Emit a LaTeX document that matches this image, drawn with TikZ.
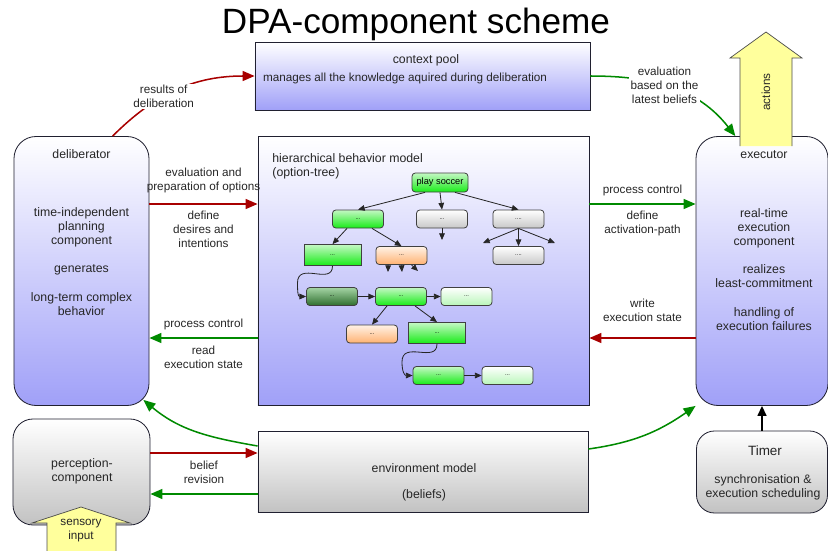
\documentclass[tikz,border=0pt]{standalone}
\usepackage{fontspec}
\setmainfont{Liberation Sans}
\usepackage{xcolor}
\definecolor{dpa-blue}{HTML}{A0A0F8}
\definecolor{dpa-grey}{HTML}{C2C2C2}
\definecolor{dpa-red}{HTML}{A80000}
\definecolor{dpa-green}{HTML}{008A00}
\definecolor{dpa-yellow}{HTML}{FFFF9C}
\definecolor{dpa-line}{HTML}{202030}
\definecolor{opt-green}{HTML}{18EC18}
\definecolor{opt-greentop}{HTML}{C4F8C4}
\definecolor{opt-dark}{HTML}{2E6E2E}
\definecolor{opt-darktop}{HTML}{A4D4A4}
\definecolor{opt-light}{HTML}{B8F6B8}
\definecolor{opt-orange}{HTML}{FFB272}
\definecolor{opt-orangetop}{HTML}{FFF2E6}
\definecolor{opt-grey}{HTML}{C8C8C8}
\usepackage{tikz}
\usetikzlibrary{arrows.meta}

\tikzset{
  bluebox/.style={draw=dpa-line, line width=0.7pt, top color=white, bottom color=dpa-blue, inner sep=0pt},
  greybox/.style={draw=dpa-line, line width=0.7pt, top color=white, bottom color=dpa-grey, inner sep=0pt},
  boxtext/.style={font=\fontsize{10.5}{12}\selectfont, text=black!85, align=center, inner sep=1pt},
  lbl/.style={font=\fontsize{10}{12}\selectfont, text=black!85, align=center, inner sep=1pt},
  redarrow/.style={draw=dpa-red, line width=1.3pt, -{Triangle[length=0.36cm, width=0.3cm]}},
  greenarrow/.style={draw=dpa-green, line width=1.3pt, -{Triangle[length=0.36cm, width=0.3cm]}},
  opt/.style={draw=black!75, line width=0.7pt, rounded corners=0.1cm, minimum width=1.53cm, minimum height=0.54cm, inner sep=0pt, font=\fontsize{5}{6}\selectfont},
  optrect/.style={sharp corners, minimum width=1.71cm, minimum height=0.63cm},
  optgreen/.style={opt, top color=opt-greentop, bottom color=opt-green},
  optdark/.style={opt, top color=opt-darktop, bottom color=opt-dark},
  optlight/.style={opt, top color=white, bottom color=opt-light},
  optorange/.style={opt, top color=opt-orangetop, bottom color=opt-orange},
  optgrey/.style={opt, top color=white, bottom color=opt-grey},
  optarrow/.style={draw=black!85, line width=0.7pt, -{Triangle[length=0.2cm, width=0.17cm]}}
}

\begin{document}
\begin{tikzpicture}[x=0.03cm, y=-0.03cm]

    \useasboundingbox (0,0) rectangle (828,550);

    % Title
    \node[anchor=base, font=\fontsize{30}{36}\selectfont] (title) at (416,33) {DPA-component scheme};

    % Context pool
    \node[bluebox, minimum width=10.05cm, minimum height=2.04cm] (cpool) at (422.5,76) {};
    \node[boxtext] (cpoolname) at (426,60) {context pool};
    \node[lbl] (cpooltext) at (405,78) {manages all the knowledge aquired during deliberation};

    % Deliberator
    \node[bluebox, rounded corners=0.66cm, minimum width=4.05cm, minimum height=8.07cm] (delib) at (81.5,271) {};
    \node[boxtext] (delibname) at (81.5,154) {deliberator};
    \node[boxtext] (delibtext) at (81.5,261.5) {time-independent\\planning\\component\\[12pt]generates\\[12pt]long-term complex\\behavior};

    % Hierarchical behavior model
    \node[bluebox, minimum width=9.93cm, minimum height=8.07cm] (hbm) at (423.5,271) {};
    \node[boxtext, anchor=north west, align=left] (hbmname) at (271,152) {hierarchical behavior model\\(option-tree)};

    % Executor
    \node[bluebox, rounded corners=0.66cm, minimum width=3.96cm, minimum height=8.07cm] (exec) at (762,271) {};
    \node[boxtext] (execname) at (764,155) {executor};
    \node[boxtext] (exectext) at (764,269.5) {real-time\\execution\\component\\[12pt]realizes\\least-commitment\\[12pt]handling of\\execution failures};

    % Actions
    \filldraw[fill=dpa-yellow, draw=black!70, line width=0.6pt] (740,146) -- (740,58) -- (730,58) -- (766,32) -- (802,58) -- (792,58) -- (792,146);
    \node[lbl, rotate=90] (actions) at (766,92) {actions};

    % Perception
    \node[greybox, rounded corners=0.6cm, minimum width=4.11cm, minimum height=3.18cm] (percep) at (81.5,472) {};
    \node[boxtext] (perceptext) at (82,471.5) {perception-\\component};

    % Sensory input
    \filldraw[fill=dpa-yellow, draw=black!70, line width=0.6pt] (47,551) -- (47,523) -- (32,523) -- (81,507) -- (130,523) -- (116,523) -- (116,551);
    \node[lbl] (sensory) at (81,531) {sensory\\input};

    % Environment model
    \node[greybox, minimum width=9.9cm, minimum height=2.43cm] (env) at (423,472) {};
    \node[boxtext] (envtext) at (424,482) {environment model\\[10pt](beliefs)};

    % Timer
    \node[greybox, rounded corners=0.54cm, minimum width=3.93cm, minimum height=2.46cm] (timer) at (762,472) {};
    \node[boxtext, font=\fontsize{11.5}{13}\selectfont] (timername) at (765,451) {Timer};
    \node[boxtext] (timertext) at (763,487) {synchronisation \&\\execution scheduling};

    % Option tree
    \node[optgreen, minimum width=1.68cm, minimum height=0.57cm, font=\fontsize{7.9}{9}\selectfont] (soccer) at (440,182.5) {play soccer};
    \node[optgreen] (o1) at (358,219) {...};
    \node[optgrey] (o2) at (442,219) {...};
    \node[optgrey] (o3) at (518.5,219) {....};
    \node[optgreen, optrect] (o4) at (332.5,255) {...};
    \node[optorange] (o5) at (401.5,255.5) {...};
    \node[optgrey] (o6) at (518.5,255.5) {....};
    \node[optdark] (o7) at (332,296.5) {...};
    \node[optgreen] (o8) at (401,296.5) {...};
    \node[optlight] (o9) at (466.5,296.5) {...};
    \node[optorange] (o10) at (372,334) {...};
    \node[optgreen, optrect] (o11) at (437,333) {...};
    \node[optgreen] (o12) at (438.5,375.5) {...};
    \node[optlight] (o13) at (507.5,375.5) {...};

    \coordinate (o2end) at (442,240);
    \coordinate (o3left) at (483,243);
    \coordinate (o3right) at (555,243);
    \coordinate (o5a) at (388,272);
    \coordinate (o5b) at (402,272);
    \coordinate (o5c) at (418,271);

    \draw[optarrow] ([xshift=-0.45cm]soccer.south) -- (o1.north);
    \draw[optarrow] (soccer.south) -- (o2.north);
    \draw[optarrow] ([xshift=0.45cm]soccer.south) -- (o3.north);
    \draw[optarrow] (o2.south) -- (o2end);
    \draw[optarrow] (o3.south) -- (o3left);
    \draw[optarrow] (o3.south) -- (o6.north);
    \draw[optarrow] (o3.south) -- (o3right);
    \draw[optarrow] ([xshift=-0.33cm]o1.south) -- (o4.north);
    \draw[optarrow] ([xshift=0.42cm]o1.south) -- (o5.north);
    \draw[optarrow] ([xshift=-0.4cm]o5.south) -- (o5a);
    \draw[optarrow] (o5.south) -- (o5b);
    \draw[optarrow] ([xshift=0.3cm]o5.south) -- (o5c);
    \draw[optarrow] (o4.south) .. controls +(0,20) and +(0,-22) .. +(-35,17) .. controls +(0,10) and +(-8,0) .. (o7.west);
    \draw[optarrow] (o7) -- (o8);
    \draw[optarrow] (o8) -- (o9);
    \draw[optarrow] ([xshift=-0.42cm]o8.south) -- (o10.north);
    \draw[optarrow] ([xshift=0.42cm]o8.south) -- (o11.north);
    \draw[optarrow] (o11.south) .. controls +(0,20) and +(0,-22) .. +(-35,18) .. controls +(0,10) and +(-8,0) .. (o12.west);
    \draw[optarrow] (o12) -- (o13);

    % Deliberator <-> context pool <-> executor
    \draw[redarrow] (delib.77) to[out=45, in=180] node[lbl, fill=white, pos=0.4] (reslbl) {results of\\deliberation} (cpool.west);
    \draw[greenarrow] (cpool.east) to[out=0, in=128] node[lbl, fill=white, pos=0.45] (beliefslbl) {evaluation\\based on the\\latest beliefs} ([xshift=-0.8cm]exec.north);

    % Deliberator <-> behavior model
    \draw[redarrow] ([yshift=2.01cm]delib.east) -- node[lbl, above=8pt] (optionslbl) {evaluation and\\preparation of options} node[lbl, below=4pt] (desireslbl) {define\\desires and\\intentions} ([yshift=2.01cm]hbm.west);
    \draw[greenarrow] ([yshift=-2.01cm]hbm.west) -- node[lbl, above=5pt] (ctrllbl) {process control} node[lbl, below=5pt] (readlbl) {read\\execution state} ([yshift=-2.01cm]delib.east);

    % Behavior model <-> executor
    \draw[greenarrow] ([yshift=2.01cm]hbm.east) -- node[lbl, above=5pt] (ctrl2lbl) {process control} node[lbl, below=4pt] (pathlbl) {define\\activation-path} ([yshift=2.01cm]exec.west);
    \draw[redarrow] ([yshift=-2.01cm]exec.west) -- node[lbl, above=12pt] (writelbl) {write\\execution state} ([yshift=-2.01cm]hbm.east);

    % Perception <-> environment model
    \draw[redarrow] ([yshift=0.57cm]percep.east) -- node[lbl, below=5pt] (revlbl) {belief\\revision} ([yshift=0.57cm]env.west);
    \draw[greenarrow] ([yshift=-0.66cm]env.west) -- ([yshift=-0.66cm]percep.east);

    % Environment model -> deliberator, executor
    \draw[greenarrow] ([yshift=0.78cm]env.west) to[out=170, in=-40] ([shift={(-0.18cm,0.18cm)}]delib.south east);
    \draw[greenarrow] ([yshift=0.69cm]env.east) to[out=8, in=-145] (exec.south west);

    % Timer
    \draw[draw=black, line width=1.2pt, -{Triangle[length=0.3cm, width=0.27cm]}] (timer.north) -- (exec.south);

\end{tikzpicture}
\end{document}
